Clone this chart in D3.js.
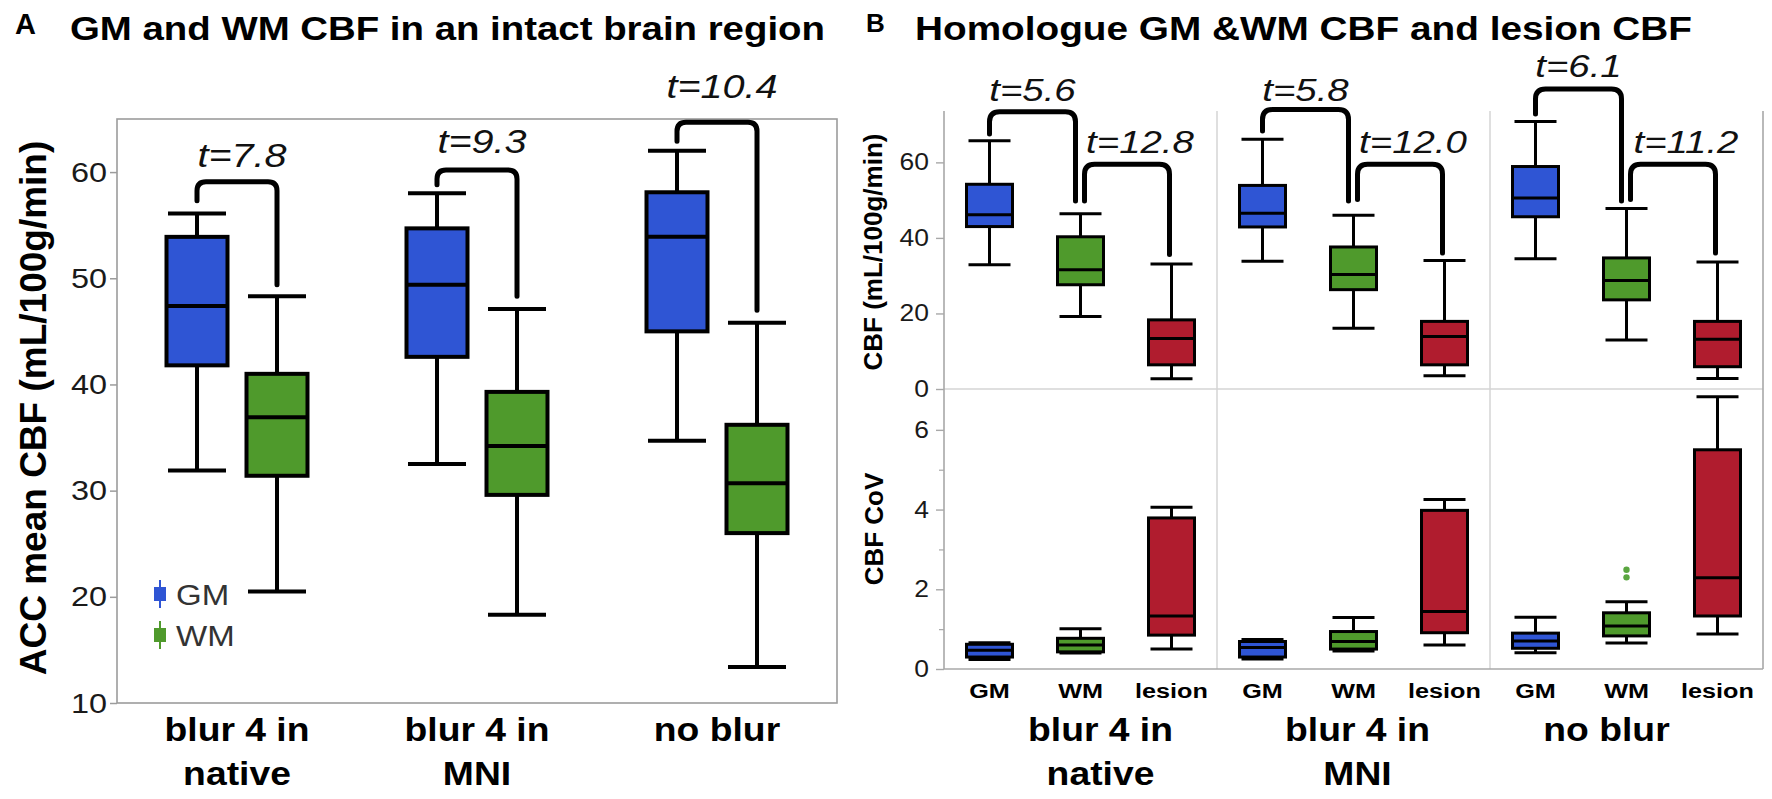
<!DOCTYPE html>
<html><head><meta charset="utf-8">
<script src="https://cdn.jsdelivr.net/npm/d3@7"></script>
<style>
body{margin:0;background:#fff;}
svg{display:block;}
text{font-family:"Liberation Sans",Arial,Helvetica,sans-serif;}
</style>
</head><body>
<svg id="chart" width="1772" height="799"></svg>
<script>
// ---------------- DATA ----------------
const groups = ["blur 4 in|native", "blur 4 in|MNI", "no blur"];
const tissuesA = ["GM", "WM"];
const tissuesB = ["GM", "WM", "lesion"];
// five-number summaries [min, q1, median, q3, max]
const gmA = [[31.9, 41.8, 47.4, 53.9, 56.1], [32.5, 42.6, 49.4, 54.7, 58.0], [34.7, 45.0, 53.9, 58.1, 62.0]];
const wmA = [[20.5, 31.4, 36.9, 41.0, 48.3], [18.3, 29.6, 34.2, 39.3, 47.1], [13.4, 26.0, 30.7, 36.2, 45.8]];
const tLabelsA = ["t=7.8", "t=9.3", "t=10.4"];
// bracket: [top, left leg end, right leg end, label baseline] in CBF units
const bracketA = [[59.1, 57.3, 49.4, 60.5], [60.2, 58.8, 48.3, 61.8], [64.7, 62.9, 47.0, 67.0]];
const yTicksA = [10, 20, 30, 40, 50, 60];

const gmB = [[32.9, 43.0, 46.1, 54.2, 65.7], [33.8, 42.9, 46.5, 53.9, 66.1], [34.5, 45.6, 50.6, 58.9, 70.8]];
const wmB = [[19.2, 27.6, 31.6, 40.3, 46.4], [16.1, 26.3, 30.3, 37.6, 46.0], [13.0, 23.6, 28.7, 34.7, 47.8]];
const lesB = [[2.7, 6.4, 13.4, 18.3, 33.1], [3.5, 6.4, 13.9, 17.9, 34.0], [2.8, 5.9, 13.2, 17.9, 33.6]];
const gmCov = [[0.24, 0.30, 0.47, 0.62, 0.66], [0.25, 0.30, 0.54, 0.69, 0.74], [0.41, 0.52, 0.70, 0.90, 1.30]];
const wmCov = [[0.40, 0.43, 0.60, 0.77, 1.01], [0.45, 0.50, 0.69, 0.94, 1.29], [0.65, 0.83, 1.08, 1.41, 1.69]];
const lesCov = [[0.50, 0.85, 1.33, 3.79, 4.06], [0.60, 0.91, 1.44, 3.98, 4.25], [0.88, 1.33, 2.29, 5.50, 6.83]];
const covOutliers = [{group: 2, tissue: "WM", v: 2.30}, {group: 2, tissue: "WM", v: 2.49}];
const tLabelsGW = ["t=5.6", "t=5.8", "t=6.1"];
const tLabelsWL = ["t=12.8", "t=12.0", "t=11.2"];
const bracketGW = [[73.4, 67.5, 49.8, 76.3], [74.0, 68.3, 49.8, 76.3], [79.4, 72.8, 49.8, 82.5]];
const bracketWL = [[59.5, 49.8, 35.6, 62.6], [59.5, 50.2, 36.0, 62.6], [59.5, 50.2, 36.0, 62.6]];
const yTicksTop = [0, 20, 40, 60];
const yTicksBot = [0, 2, 4, 6];
const yMinorBot = [1, 3, 5];

const colors = {GM: "#2f55d4", WM: "#4f9a2c", lesion: "#b01c2e"};

// ---------------- SETUP ----------------
const svg = d3.select("#chart");
const SX = 1.15;
function stext(sel, x, y, str, o) {
  o = Object.assign({size: 20, weight: "normal", style: "normal", anchor: "middle", sx: SX, fill: "#000"}, o || {});
  return sel.append("text")
    .attr("transform", `translate(${x},${y}) scale(${o.sx},1)`)
    .attr("text-anchor", o.anchor)
    .style("font-size", o.size + "px").style("font-weight", o.weight)
    .style("font-style", o.style).attr("fill", o.fill).text(str);
}
function drawBox(g, cx, w, capW, s, y, color, sw) {
  const [mn, q1, md, q3, mx] = s;
  g.append("line").attr("x1", cx).attr("x2", cx).attr("y1", y(q3)).attr("y2", y(mx)).attr("stroke", "#000").attr("stroke-width", sw);
  g.append("line").attr("x1", cx).attr("x2", cx).attr("y1", y(q1)).attr("y2", y(mn)).attr("stroke", "#000").attr("stroke-width", sw);
  g.append("line").attr("x1", cx - capW / 2).attr("x2", cx + capW / 2).attr("y1", y(mx)).attr("y2", y(mx)).attr("stroke", "#000").attr("stroke-width", sw);
  g.append("line").attr("x1", cx - capW / 2).attr("x2", cx + capW / 2).attr("y1", y(mn)).attr("y2", y(mn)).attr("stroke", "#000").attr("stroke-width", sw);
  g.append("rect").attr("x", cx - w / 2).attr("width", w).attr("y", y(q3)).attr("height", y(q1) - y(q3))
    .attr("fill", color).attr("stroke", "#000").attr("stroke-width", sw);
  g.append("line").attr("x1", cx - w / 2).attr("x2", cx + w / 2).attr("y1", y(md)).attr("y2", y(md)).attr("stroke", "#000").attr("stroke-width", sw);
}
function bracket(g, xL, xR, yT, yL, yR, sw, r) {
  const p = d3.path();
  p.moveTo(xL, yL); p.lineTo(xL, yT + r);
  p.quadraticCurveTo(xL, yT, xL + r, yT);
  p.lineTo(xR - r, yT);
  p.quadraticCurveTo(xR, yT, xR, yT + r);
  p.lineTo(xR, yR);
  g.append("path").attr("d", p.toString()).attr("fill", "none").attr("stroke", "#000")
    .attr("stroke-width", sw).attr("stroke-linecap", "round").attr("stroke-linejoin", "round");
}

// ---------------- TITLES ----------------
svg.append("text").attr("x", 15).attr("y", 34).style("font-size", "29px").style("font-weight", "bold").text("A");
svg.append("text").attr("x", 70).attr("y", 40).style("font-size", "34px").style("font-weight", "bold")
  .attr("textLength", 755).attr("lengthAdjust", "spacingAndGlyphs").text("GM and WM CBF in an intact brain region");
svg.append("text").attr("x", 866).attr("y", 32).style("font-size", "26px").style("font-weight", "bold").text("B");
svg.append("text").attr("x", 915).attr("y", 40).style("font-size", "34px").style("font-weight", "bold")
  .attr("textLength", 777).attr("lengthAdjust", "spacingAndGlyphs").text("Homologue GM &WM CBF and lesion CBF");

// ---------------- PANEL A ----------------
const A = {l: 117, r: 837, t: 119, b: 703};
const xA = d3.scaleBand().domain(groups).range([A.l, A.r]);
const subA = d3.scaleBand().domain(tissuesA).range([-80, 80]);
const yA = d3.scaleLinear().domain([10, 65]).range([A.b, A.t]);
const gA = svg.append("g");
gA.append("rect").attr("x", A.l).attr("y", A.t).attr("width", A.r - A.l).attr("height", A.b - A.t)
  .attr("fill", "none").attr("stroke", "#9c9c9c").attr("stroke-width", 1.6);
const axA = gA.append("g").attr("transform", `translate(${A.l},0)`)
  .call(d3.axisLeft(yA).tickValues(yTicksA).tickSize(7).tickFormat(""));
axA.select(".domain").remove();
axA.selectAll("line").attr("stroke", "#9c9c9c").attr("stroke-width", 1.5);
yTicksA.forEach(v => stext(gA, 107, yA(v) + 9.5, String(v), {size: 27, anchor: "end", fill: "#1a1a1a", sx: 1.2}));
gA.append("text").attr("transform", `translate(46,${408}) rotate(-90)`).attr("text-anchor", "middle")
  .style("font-size", "37px").style("font-weight", "bold").text("ACC mean CBF (mL/100g/min)");

groups.forEach((grp, i) => {
  const c = xA(grp) + xA.bandwidth() / 2;
  drawBox(gA, c + subA("GM") + subA.bandwidth() / 2, 61, 58, gmA[i], yA, colors.GM, 4);
  drawBox(gA, c + subA("WM") + subA.bandwidth() / 2, 61, 58, wmA[i], yA, colors.WM, 4);
  const xL = c + subA("GM") + subA.bandwidth() / 2, xR = c + subA("WM") + subA.bandwidth() / 2;
  const b = bracketA[i];
  bracket(gA, xL, xR, yA(b[0]), yA(b[1]), yA(b[2]), 5, 9);
  stext(gA, (xL + xR) / 2 + 5, yA(b[3]), tLabelsA[i], {size: 33, style: "italic", sx: 1.2, fill: "#111"});
  const lines = grp.split("|");
  lines.forEach((ln, k) => stext(gA, c, 741 + k * 44, ln, {size: 33, weight: "bold", sx: 1.13}));
});
// legend
[["GM", 594], ["WM", 635]].forEach(([t, yy]) => {
  gA.append("line").attr("x1", 160).attr("x2", 160).attr("y1", yy - 14).attr("y2", yy + 14).attr("stroke", colors[t]).attr("stroke-width", 2);
  gA.append("rect").attr("x", 154).attr("y", yy - 7).attr("width", 12).attr("height", 14).attr("fill", colors[t]);
  stext(gA, 176, yy + 11, t, {size: 30, anchor: "start", fill: "#333", sx: 1.1});
});

// ---------------- PANEL B ----------------
const B = {l: 944, r: 1763, t: 111, mid: 389, b: 669};
const xB = d3.scaleBand().domain(groups).range([B.l, B.r]);
const subB = d3.scaleBand().domain(tissuesB).range([0, xB.bandwidth()]);
const yTop = d3.scaleLinear().domain([0, 73.6]).range([B.mid, B.t]);
const yBot = d3.scaleLinear().domain([0, 7]).range([B.b, B.mid + 1]);
const gB = svg.append("g");
// grid / frame
gB.append("line").attr("x1", B.l).attr("x2", B.r).attr("y1", B.mid).attr("y2", B.mid).attr("stroke", "#d4d4d4").attr("stroke-width", 1.5);
groups.slice(1).forEach(grp => gB.append("line").attr("x1", xB(grp)).attr("x2", xB(grp)).attr("y1", B.t).attr("y2", B.b).attr("stroke", "#d4d4d4").attr("stroke-width", 1.5));
gB.append("line").attr("x1", B.r).attr("x2", B.r).attr("y1", B.t).attr("y2", B.b).attr("stroke", "#a8a8a8").attr("stroke-width", 1.6);
gB.append("line").attr("x1", B.l).attr("x2", B.r).attr("y1", B.b).attr("y2", B.b).attr("stroke", "#a8a8a8").attr("stroke-width", 1.6);
gB.append("line").attr("x1", B.l).attr("x2", B.l).attr("y1", B.t).attr("y2", B.b).attr("stroke", "#a8a8a8").attr("stroke-width", 1.6);
const axT = gB.append("g").attr("transform", `translate(${B.l},0)`).call(d3.axisLeft(yTop).tickValues(yTicksTop).tickSize(8).tickFormat(""));
axT.select(".domain").remove(); axT.selectAll("line").attr("stroke", "#a8a8a8").attr("stroke-width", 1.4);
const axBm = gB.append("g").attr("transform", `translate(${B.l},0)`).call(d3.axisLeft(yBot).tickValues(yTicksBot).tickSize(8).tickFormat(""));
axBm.select(".domain").remove(); axBm.selectAll("line").attr("stroke", "#a8a8a8").attr("stroke-width", 1.4);
const axBn = gB.append("g").attr("transform", `translate(${B.l},0)`).call(d3.axisLeft(yBot).tickValues(yMinorBot).tickSize(5).tickFormat(""));
axBn.select(".domain").remove(); axBn.selectAll("line").attr("stroke", "#a8a8a8").attr("stroke-width", 1.2);
yTicksTop.filter(v => v > 0).forEach(v => stext(gB, 929, yTop(v) + 8, String(v), {size: 23, anchor: "end", fill: "#1a1a1a"}));
stext(gB, 929, yTop(0) + 8, "0", {size: 23, anchor: "end", fill: "#1a1a1a"});
yTicksBot.forEach(v => stext(gB, 929, yBot(v) + 8, String(v), {size: 23, anchor: "end", fill: "#1a1a1a"}));
gB.append("text").attr("transform", `translate(882,${(B.t + B.mid) / 2 + 2}) rotate(-90)`).attr("text-anchor", "middle")
  .style("font-size", "26px").style("font-weight", "bold").text("CBF (mL/100g/min)");
gB.append("text").attr("transform", `translate(883,${(B.mid + B.b) / 2}) rotate(-90)`).attr("text-anchor", "middle")
  .style("font-size", "26px").style("font-weight", "bold").text("CBF CoV");

const cbfB = {GM: gmB, WM: wmB, lesion: lesB};
const covB = {GM: gmCov, WM: wmCov, lesion: lesCov};
const groupLabelShift = [20, 4, -20];
groups.forEach((grp, i) => {
  const cx = t => xB(grp) + subB(t) + subB.bandwidth() / 2;
  tissuesB.forEach(t => {
    drawBox(gB, cx(t), 46, 42, cbfB[t][i], yTop, colors[t], 3);
    drawBox(gB, cx(t), 46, 42, covB[t][i], yBot, colors[t], 3);
    stext(gB, cx(t), 698, t, {size: 21, weight: "bold", sx: 1.2});
  });
  const b1 = bracketGW[i], b2 = bracketWL[i];
  const x1 = cx("GM"), x2 = cx("WM") - 5, x3 = cx("WM") + 4, x4 = cx("lesion") - 2;
  bracket(gB, x1, x2, yTop(b1[0]), yTop(b1[1]), yTop(b1[2]), 5, 10);
  bracket(gB, x3, x4, yTop(b2[0]), yTop(b2[1]), yTop(b2[2]), 5, 10);
  stext(gB, (x1 + x2) / 2, yTop(b1[3]), tLabelsGW[i], {size: 32, style: "italic", sx: 1.2, fill: "#111"});
  stext(gB, (x3 + x4) / 2 + 13, yTop(b2[3]), tLabelsWL[i], {size: 32, style: "italic", sx: 1.2, fill: "#111"});
  const gc = xB(grp) + xB.bandwidth() / 2 + groupLabelShift[i];
  grp.split("|").forEach((ln, k) => stext(gB, gc, 741 + k * 44, ln, {size: 33, weight: "bold", sx: 1.13}));
});
covOutliers.forEach(o => {
  gB.append("circle").attr("cx", xB(groups[o.group]) + subB(o.tissue) + subB.bandwidth() / 2)
    .attr("cy", yBot(o.v)).attr("r", 3.2).attr("fill", "#5aa640");
});
</script>
</body></html>
